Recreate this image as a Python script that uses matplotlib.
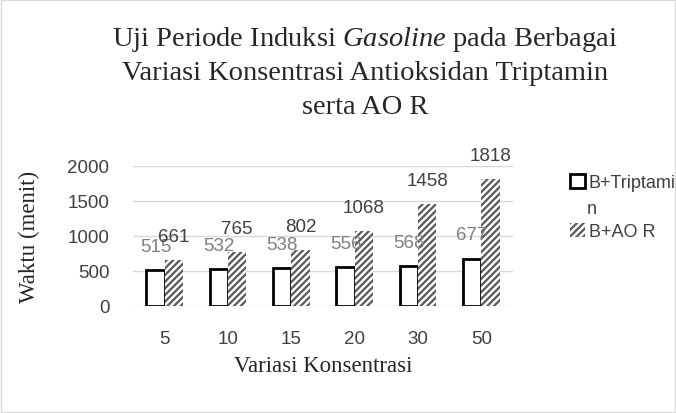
import numpy as np
import matplotlib.pyplot as plt
from matplotlib.patches import Rectangle

plt.rcParams['hatch.linewidth'] = 1.6
plt.rcParams['hatch.color'] = '#595959'
plt.rcParams['mathtext.fontset'] = 'custom'
plt.rcParams['mathtext.it'] = 'Liberation Serif:italic'
plt.rcParams['mathtext.rm'] = 'Liberation Serif'

# data
konsentrasi = ['5', '10', '15', '20', '30', '50']
triptamin = [515, 532, 538, 556, 568, 677]
ao_r = [661, 765, 802, 1068, 1458, 1818]

fig = plt.figure(figsize=(6.76, 4.14), dpi=100)
ax = fig.add_axes([133 / 676, 1 - 307 / 414, 380 / 676, 140 / 414])

x = np.arange(len(konsentrasi))
w = 0.29
b1 = ax.bar(x - w / 2, triptamin, w, color='white', edgecolor='black',
            linewidth=2, label='B+Triptami', zorder=3)
b2 = ax.bar(x + w / 2, ao_r, w, color='white', edgecolor='#595959',
            linewidth=0, hatch='/////', label='B+AO R', zorder=3)

for xi, v in zip(x - w / 2, triptamin):
    ax.annotate(str(v), (xi, v), xytext=(0, 17), textcoords='offset points',
                ha='center', va='center', fontsize=13.5, color='#7f7f7f',
                family='Liberation Sans', zorder=4)
for xi, v in zip(x + w / 2, ao_r):
    ax.annotate(str(v), (xi, v), xytext=(0, 17), textcoords='offset points',
                ha='center', va='center', fontsize=13.5, color='#404040',
                family='Liberation Sans', zorder=4)

ax.set_xlim(-0.5, 5.5)
ax.set_ylim(0, 2000)
ax.set_yticks([0, 500, 1000, 1500, 2000])
ax.set_xticks(x)
ax.set_xticklabels(konsentrasi)
ax.grid(axis='y', color='#d9d9d9', linewidth=1, zorder=0)
for s in ax.spines.values():
    s.set_visible(False)
ax.tick_params(length=0, labelsize=13.5, colors='#404040')
ax.tick_params(axis='y', pad=17)
ax.tick_params(axis='x', pad=17)
for lab in ax.get_xticklabels() + ax.get_yticklabels():
    lab.set_family('Liberation Sans')

ax.set_ylabel('Waktu (menit)', family='Liberation Serif', fontsize=16.5,
              color='#262626', labelpad=20)
ax.set_xlabel('Variasi Konsentrasi', family='Liberation Serif', fontsize=16.5,
              color='#262626', labelpad=6)

tkw = dict(family='Liberation Serif', fontsize=20.5, color='#262626',
           ha='center', va='center')
fig.text(365 / 676, 1 - 40 / 414,
         r'Uji Periode Induksi $\mathit{Gasoline}$ pada Berbagai', **tkw)
fig.text(365 / 676, 1 - 73 / 414,
         'Variasi Konsentrasi Antioksidan Triptamin', **tkw)
fig.text(365 / 676, 1 - 107 / 414, 'serta AO R', **tkw)

leg = fig.legend(handles=[b1, b2], loc='upper left',
                 bbox_to_anchor=(570 / 676, 1 - 175 / 414), frameon=False,
                 prop={'family': 'Liberation Sans', 'size': 13},
                 handlelength=0.85, handleheight=0.85, handletextpad=0.2,
                 labelspacing=1.75, borderpad=0, borderaxespad=0)
for t in leg.get_texts():
    t.set_color('#404040')
# wrapped remainder of the first legend label
fig.text(587 / 676, 1 - 210 / 414, 'n', family='Liberation Sans',
         fontsize=13, color='#404040', ha='left', va='center')

fig.patches.append(Rectangle((1 / 676, 1 / 414), 1 - 2 / 676, 1 - 2 / 414,
                             transform=fig.transFigure, fill=False,
                             edgecolor='#d9d9d9', linewidth=1))

fig.savefig('out.png', dpi=100)
